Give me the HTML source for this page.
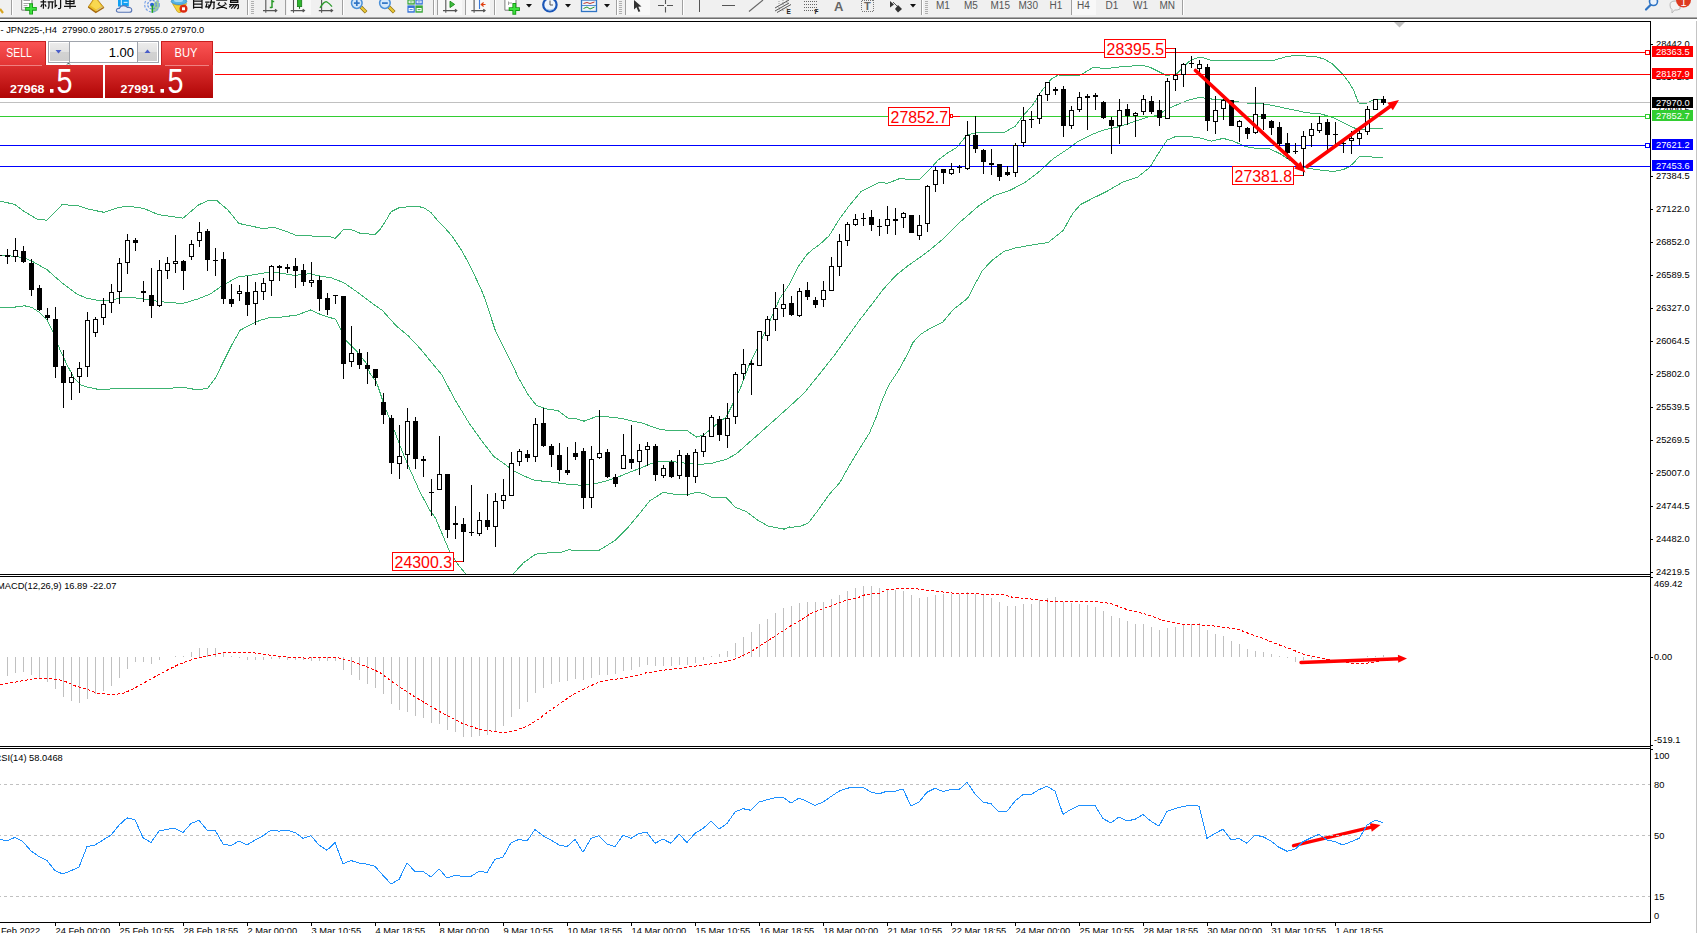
<!DOCTYPE html>
<html><head><meta charset="utf-8"><title>JPN225 H4</title>
<style>
html,body{margin:0;padding:0;background:#fff;}
body{width:1697px;height:933px;overflow:hidden;position:relative;font-family:"Liberation Sans", sans-serif;}
svg{position:absolute;left:0;top:0;display:block;}
text{font-family:"Liberation Sans", sans-serif;}
</style></head><body>
<svg width="1697" height="933" viewBox="0 0 1697 933">
<defs>
<linearGradient id="gSell" x1="0" y1="0" x2="0" y2="1"><stop offset="0" stop-color="#fb5555"/><stop offset="1" stop-color="#e23333"/></linearGradient>
<linearGradient id="gPrice" x1="0" y1="0" x2="0" y2="1"><stop offset="0" stop-color="#dc3030"/><stop offset="1" stop-color="#b00505"/></linearGradient>
<linearGradient id="gBtn" x1="0" y1="0" x2="0" y2="1"><stop offset="0" stop-color="#ececec"/><stop offset="0.5" stop-color="#e2e2e2"/><stop offset="0.5" stop-color="#d2d2d2"/><stop offset="1" stop-color="#cfcfcf"/></linearGradient>
<clipPath id="cMain"><rect x="0" y="22" width="1650" height="552"/></clipPath>
<clipPath id="cMacd"><rect x="0" y="577" width="1650" height="169"/></clipPath>
<clipPath id="cRsi"><rect x="0" y="749" width="1650" height="173"/></clipPath>
</defs>
<rect x="0" y="0" width="1697" height="933" fill="#fff"/>
<g clip-path="url(#cMain)" shape-rendering="crispEdges">
<polyline points="0.0,201.1 14.8,204.4 24.7,211.8 37.1,219.2 47.0,220.2 61.9,204.8 76.7,205.3 89.1,209.3 103.9,212.3 118.8,207.3 128.7,206.3 143.5,208.3 158.4,214.7 173.2,216.7 183.1,218.2 198.0,205.3 207.9,200.4 216.6,200.4 227.7,209.8 238.8,223.4 250.0,225.9 262.3,228.4 274.7,227.6 287.1,231.6 295.8,235.3 311.8,236.0 329.2,236.5 335.4,238.3 344.0,229.1 351.4,229.6 360.1,233.3 375.0,234.5 380.0,229.6 384.9,222.2 391.1,211.8 399.8,207.3 409.7,206.8 417.1,206.1 424.5,208.1 430.7,212.3 436.9,219.7 443.1,225.9 451.8,235.8 461.7,250.6 467.9,261.8 474.0,274.1 481.5,290.2 486.4,302.6 491.4,318.7 495.1,329.8 503.7,347.2 511.2,362.0 518.6,378.1 528.5,395.4 535.9,404.8 538.3,406.1 548.2,409.3 558.1,410.6 568.0,418.0 575.4,418.5 584.1,421.2 597.7,416.0 607.6,416.8 622.4,418.5 632.3,421.0 642.2,423.0 652.1,426.7 662.0,429.9 674.4,430.4 686.8,430.4 696.7,437.1 704.1,434.6 716.5,424.2 726.4,416.8 736.3,397.0 740.0,389.2 749.9,363.2 759.8,343.4 769.7,321.2 779.6,298.9 789.5,284.0 798.2,266.7 806.8,254.8 811.8,250.1 819.2,244.9 829.1,235.8 839.0,219.7 848.9,206.1 861.3,191.2 880.0,182.2 887.4,183.4 899.8,178.5 912.2,179.7 919.6,179.2 929.5,169.8 938.2,159.9 948.1,152.5 956.7,147.6 966.6,135.2 979.0,132.0 991.4,132.7 1003.7,132.7 1014.9,126.5 1023.5,115.4 1033.4,104.2 1040.9,91.9 1050.8,79.5 1058.2,75.0 1068.1,75.3 1080.5,75.0 1092.8,67.6 1107.7,68.4 1122.5,66.6 1142.3,65.4 1149.8,67.1 1159.7,72.1 1167.1,75.8 1170.0,74.9 1176.9,73.7 1182.0,68.6 1188.9,61.7 1195.7,58.3 1200.9,57.1 1211.2,60.5 1226.6,60.9 1242.0,60.0 1252.3,60.9 1272.9,60.5 1286.6,56.6 1296.9,55.2 1307.2,56.1 1315.7,56.6 1324.3,59.1 1332.9,64.3 1341.5,72.9 1348.3,81.4 1353.5,90.0 1357.8,101.2 1359.5,103.9 1364.6,103.9 1370.6,101.3 1375.8,99.3 1382.6,99.4" fill="none" stroke="#3CB371" stroke-width="1" />
<polyline points="0.0,255.1 14.8,256.3 24.7,258.1 32.2,261.3 47.0,269.7 61.9,282.8 76.7,293.9 86.6,298.2 99.0,300.6 111.4,300.1 123.7,297.2 138.6,298.2 153.4,300.6 168.3,302.6 183.1,303.4 198.0,298.9 210.4,293.9 222.7,285.3 237.6,277.1 252.4,274.9 267.3,272.4 279.7,272.9 294.5,275.4 309.4,273.7 319.3,275.9 331.6,277.9 344.0,282.8 356.4,291.5 371.2,302.6 382.4,310.5 396.0,325.6 408.4,336.0 420.0,348.4 429.4,359.8 441.8,374.7 454.1,398.2 469.0,423.0 481.4,440.3 493.7,456.4 503.6,463.3 513.5,470.7 523.4,475.7 534.6,480.4 548.2,481.6 568.0,484.3 582.8,485.3 597.7,483.1 607.6,480.6 620.0,476.2 632.3,471.2 642.2,467.5 652.1,463.1 662.0,461.3 674.4,461.8 686.8,463.3 699.2,464.5 711.5,463.3 726.4,459.3 736.3,453.9 774.6,419.9 789.5,406.6 804.3,392.9 819.2,374.4 834.0,355.8 846.4,338.5 858.8,321.2 871.2,305.1 883.5,289.0 895.9,275.4 908.3,265.5 920.7,256.8 929.5,250.3 944.3,237.9 961.7,220.6 979.0,205.7 993.8,195.8 1008.7,190.9 1023.5,183.4 1038.4,172.3 1053.2,158.7 1068.1,148.8 1078.0,141.4 1090.4,135.2 1102.7,130.2 1117.6,127.0 1132.4,122.1 1147.3,117.1 1157.2,115.4 1167.1,109.2 1170.0,108.0 1178.6,104.1 1188.9,100.0 1199.1,97.4 1204.3,98.1 1214.6,99.4 1226.6,100.0 1238.6,102.0 1252.3,103.7 1266.0,104.1 1276.3,106.3 1290.0,109.2 1307.2,112.8 1320.9,114.0 1332.9,117.4 1341.5,121.7 1350.0,126.0 1356.9,129.1 1363.8,129.4 1372.3,128.2 1382.6,128.6" fill="none" stroke="#3CB371" stroke-width="1" />
<polyline points="0.0,307.6 14.8,307.1 24.7,305.8 32.2,307.6 39.6,312.5 47.0,319.9 52.0,329.8 59.4,348.4 66.8,364.5 74.2,378.1 81.7,385.5 89.1,387.5 101.5,390.0 118.8,388.0 133.6,388.0 148.5,388.7 163.3,388.7 183.1,387.3 198.0,390.0 207.9,388.0 215.3,378.1 222.7,363.2 232.6,343.4 240.1,330.3 250.0,324.9 259.9,320.4 269.8,317.5 282.1,317.0 297.0,315.0 310.6,310.0 321.7,315.0 335.4,319.2 340.3,328.6 346.5,341.0 356.4,350.9 366.3,363.2 370.0,373.5 376.2,381.8 377.4,384.6 384.8,406.9 394.7,431.6 402.2,451.4 409.6,468.7 419.5,491.0 429.4,509.6 435.6,518.2 441.8,533.1 449.2,550.4 456.6,562.8 466.5,574.9" fill="none" stroke="#3CB371" stroke-width="1" />
<polyline points="512.3,574.9 523.4,562.8 535.8,554.1 548.2,552.9 560.6,552.4 568.0,549.9 582.8,550.4 598.9,550.4 615.0,540.5 627.4,528.1 639.8,513.3 649.7,500.9 663.3,492.3 674.4,494.2 686.8,494.7 696.7,492.3 704.1,493.5 712.8,498.0 726.4,497.7 735.1,507.1 746.2,511.6 758.6,520.7 768.5,526.2 783.3,528.9 783.6,529.4 789.9,526.7 790.0,527.4 800.3,526.3 808.1,523.2 817.0,511.7 829.6,493.9 840.0,482.4 846.3,470.9 856.8,453.2 869.3,433.3 875.6,418.7 881.1,402.8 888.5,385.5 898.4,370.7 905.8,357.1 913.2,342.2 920.7,334.3 930.6,328.1 942.9,321.9 952.8,310.0 967.7,298.2 975.1,284.0 982.5,270.4 992.6,259.9 1003.7,251.5 1016.1,247.8 1033.4,244.8 1048.3,242.4 1063.1,230.5 1073.0,213.1 1080.5,204.5 1092.8,198.3 1107.7,190.9 1122.5,182.2 1137.4,177.3 1149.8,167.4 1159.7,151.3 1167.1,140.1 1170.0,138.9 1176.9,136.0 1187.1,136.3 1199.1,137.7 1211.2,141.1 1223.2,138.4 1233.4,141.1 1245.4,146.6 1255.7,148.3 1269.4,148.8 1279.7,153.5 1290.0,160.3 1300.3,166.3 1307.2,168.0 1317.5,169.7 1332.9,171.5 1343.2,169.7 1350.0,166.3 1355.2,161.2 1359.5,156.5 1367.2,156.4 1375.8,157.4 1382.6,157.4" fill="none" stroke="#3CB371" stroke-width="1" />
</g>
<g shape-rendering="crispEdges">
<rect x="0" y="52" width="1650" height="1" fill="#ff0000"/>
<rect x="0" y="74" width="1650" height="1" fill="#ff0000"/>
<rect x="0" y="102" width="1650" height="1" fill="#c0c0c0"/>
<rect x="0" y="116" width="1650" height="1" fill="#32cd32"/>
<rect x="0" y="145" width="1650" height="1" fill="#0000ff"/>
<rect x="0" y="166" width="1650" height="1" fill="#0000ff"/>
</g>
<g shape-rendering="crispEdges" clip-path="url(#cMain)">
<rect x="0" y="255" width="2" height="1" fill="#000"/>
<rect x="7" y="249" width="1" height="15" fill="#000"/>
<rect x="5" y="255" width="5" height="2" fill="#000"/>
<rect x="15" y="238" width="1" height="24" fill="#000"/>
<rect x="13" y="250" width="5" height="7" fill="#000"/>
<rect x="14" y="251" width="3" height="5" fill="#fff"/>
<rect x="23" y="246" width="1" height="17" fill="#000"/>
<rect x="21" y="251" width="5" height="11" fill="#000"/>
<rect x="31" y="259" width="1" height="37" fill="#000"/>
<rect x="29" y="263" width="5" height="27" fill="#000"/>
<rect x="39" y="285" width="1" height="26" fill="#000"/>
<rect x="37" y="288" width="5" height="22" fill="#000"/>
<rect x="47" y="308" width="1" height="12" fill="#000"/>
<rect x="45" y="315" width="5" height="3" fill="#000"/>
<rect x="55" y="307" width="1" height="71" fill="#000"/>
<rect x="53" y="319" width="5" height="48" fill="#000"/>
<rect x="63" y="350" width="1" height="58" fill="#000"/>
<rect x="61" y="366" width="5" height="17" fill="#000"/>
<rect x="71" y="372" width="1" height="28" fill="#000"/>
<rect x="69" y="377" width="5" height="6" fill="#000"/>
<rect x="70" y="378" width="3" height="4" fill="#fff"/>
<rect x="79" y="362" width="1" height="31" fill="#000"/>
<rect x="77" y="368" width="5" height="9" fill="#000"/>
<rect x="78" y="369" width="3" height="7" fill="#fff"/>
<rect x="87" y="312" width="1" height="65" fill="#000"/>
<rect x="85" y="320" width="5" height="47" fill="#000"/>
<rect x="86" y="321" width="3" height="45" fill="#fff"/>
<rect x="95" y="317" width="1" height="20" fill="#000"/>
<rect x="93" y="319" width="5" height="14" fill="#000"/>
<rect x="94" y="320" width="3" height="12" fill="#fff"/>
<rect x="103" y="298" width="1" height="27" fill="#000"/>
<rect x="101" y="304" width="5" height="14" fill="#000"/>
<rect x="102" y="305" width="3" height="12" fill="#fff"/>
<rect x="111" y="284" width="1" height="29" fill="#000"/>
<rect x="109" y="292" width="5" height="11" fill="#000"/>
<rect x="110" y="293" width="3" height="9" fill="#fff"/>
<rect x="119" y="258" width="1" height="46" fill="#000"/>
<rect x="117" y="263" width="5" height="29" fill="#000"/>
<rect x="118" y="264" width="3" height="27" fill="#fff"/>
<rect x="127" y="234" width="1" height="40" fill="#000"/>
<rect x="125" y="240" width="5" height="23" fill="#000"/>
<rect x="126" y="241" width="3" height="21" fill="#fff"/>
<rect x="135" y="238" width="1" height="13" fill="#000"/>
<rect x="133" y="240" width="5" height="3" fill="#000"/>
<rect x="143" y="281" width="1" height="21" fill="#000"/>
<rect x="141" y="291" width="5" height="2" fill="#000"/>
<rect x="151" y="268" width="1" height="50" fill="#000"/>
<rect x="149" y="295" width="5" height="11" fill="#000"/>
<rect x="159" y="260" width="1" height="47" fill="#000"/>
<rect x="157" y="270" width="5" height="36" fill="#000"/>
<rect x="158" y="271" width="3" height="34" fill="#fff"/>
<rect x="167" y="257" width="1" height="22" fill="#000"/>
<rect x="165" y="263" width="5" height="8" fill="#000"/>
<rect x="166" y="264" width="3" height="6" fill="#fff"/>
<rect x="175" y="235" width="1" height="38" fill="#000"/>
<rect x="173" y="261" width="5" height="3" fill="#000"/>
<rect x="174" y="262" width="3" height="1" fill="#fff"/>
<rect x="183" y="260" width="1" height="30" fill="#000"/>
<rect x="181" y="261" width="5" height="10" fill="#000"/>
<rect x="191" y="240" width="1" height="20" fill="#000"/>
<rect x="189" y="244" width="5" height="13" fill="#000"/>
<rect x="190" y="245" width="3" height="11" fill="#fff"/>
<rect x="199" y="222" width="1" height="25" fill="#000"/>
<rect x="197" y="232" width="5" height="9" fill="#000"/>
<rect x="198" y="233" width="3" height="7" fill="#fff"/>
<rect x="207" y="229" width="1" height="42" fill="#000"/>
<rect x="205" y="231" width="5" height="29" fill="#000"/>
<rect x="215" y="248" width="1" height="28" fill="#000"/>
<rect x="213" y="260" width="5" height="1" fill="#000"/>
<rect x="223" y="252" width="1" height="52" fill="#000"/>
<rect x="221" y="259" width="5" height="40" fill="#000"/>
<rect x="231" y="284" width="1" height="23" fill="#000"/>
<rect x="229" y="299" width="5" height="5" fill="#000"/>
<rect x="239" y="285" width="1" height="16" fill="#000"/>
<rect x="237" y="291" width="5" height="3" fill="#000"/>
<rect x="238" y="292" width="3" height="1" fill="#fff"/>
<rect x="247" y="276" width="1" height="40" fill="#000"/>
<rect x="245" y="292" width="5" height="13" fill="#000"/>
<rect x="255" y="282" width="1" height="43" fill="#000"/>
<rect x="253" y="291" width="5" height="13" fill="#000"/>
<rect x="254" y="292" width="3" height="11" fill="#fff"/>
<rect x="263" y="278" width="1" height="22" fill="#000"/>
<rect x="261" y="283" width="5" height="9" fill="#000"/>
<rect x="262" y="284" width="3" height="7" fill="#fff"/>
<rect x="271" y="265" width="1" height="31" fill="#000"/>
<rect x="269" y="266" width="5" height="15" fill="#000"/>
<rect x="270" y="267" width="3" height="13" fill="#fff"/>
<rect x="279" y="265" width="1" height="16" fill="#000"/>
<rect x="277" y="266" width="5" height="2" fill="#000"/>
<rect x="287" y="264" width="1" height="9" fill="#000"/>
<rect x="285" y="267" width="5" height="2" fill="#000"/>
<rect x="295" y="258" width="1" height="30" fill="#000"/>
<rect x="293" y="266" width="5" height="5" fill="#000"/>
<rect x="303" y="264" width="1" height="22" fill="#000"/>
<rect x="301" y="270" width="5" height="12" fill="#000"/>
<rect x="311" y="262" width="1" height="25" fill="#000"/>
<rect x="309" y="280" width="5" height="3" fill="#000"/>
<rect x="310" y="281" width="3" height="1" fill="#fff"/>
<rect x="319" y="276" width="1" height="35" fill="#000"/>
<rect x="317" y="280" width="5" height="19" fill="#000"/>
<rect x="327" y="293" width="1" height="22" fill="#000"/>
<rect x="325" y="298" width="5" height="12" fill="#000"/>
<rect x="335" y="295" width="1" height="9" fill="#000"/>
<rect x="333" y="295" width="5" height="1" fill="#000"/>
<rect x="343" y="296" width="1" height="83" fill="#000"/>
<rect x="341" y="296" width="5" height="68" fill="#000"/>
<rect x="351" y="326" width="1" height="41" fill="#000"/>
<rect x="349" y="353" width="5" height="9" fill="#000"/>
<rect x="350" y="354" width="3" height="7" fill="#fff"/>
<rect x="359" y="349" width="1" height="20" fill="#000"/>
<rect x="357" y="353" width="5" height="12" fill="#000"/>
<rect x="367" y="352" width="1" height="32" fill="#000"/>
<rect x="365" y="365" width="5" height="4" fill="#000"/>
<rect x="375" y="369" width="1" height="17" fill="#000"/>
<rect x="373" y="369" width="5" height="9" fill="#000"/>
<rect x="383" y="393" width="1" height="31" fill="#000"/>
<rect x="381" y="402" width="5" height="13" fill="#000"/>
<rect x="391" y="415" width="1" height="59" fill="#000"/>
<rect x="389" y="418" width="5" height="45" fill="#000"/>
<rect x="399" y="425" width="1" height="54" fill="#000"/>
<rect x="397" y="456" width="5" height="8" fill="#000"/>
<rect x="398" y="457" width="3" height="6" fill="#fff"/>
<rect x="407" y="408" width="1" height="61" fill="#000"/>
<rect x="405" y="421" width="5" height="34" fill="#000"/>
<rect x="406" y="422" width="3" height="32" fill="#fff"/>
<rect x="415" y="417" width="1" height="52" fill="#000"/>
<rect x="413" y="421" width="5" height="38" fill="#000"/>
<rect x="423" y="456" width="1" height="21" fill="#000"/>
<rect x="421" y="459" width="5" height="2" fill="#000"/>
<rect x="431" y="479" width="1" height="37" fill="#000"/>
<rect x="429" y="492" width="5" height="1" fill="#000"/>
<rect x="439" y="436" width="1" height="54" fill="#000"/>
<rect x="437" y="474" width="5" height="16" fill="#000"/>
<rect x="438" y="475" width="3" height="14" fill="#fff"/>
<rect x="447" y="474" width="1" height="64" fill="#000"/>
<rect x="445" y="474" width="5" height="56" fill="#000"/>
<rect x="455" y="506" width="1" height="33" fill="#000"/>
<rect x="453" y="523" width="5" height="2" fill="#000"/>
<rect x="463" y="518" width="1" height="44" fill="#000"/>
<rect x="461" y="524" width="5" height="8" fill="#000"/>
<rect x="471" y="485" width="1" height="51" fill="#000"/>
<rect x="469" y="532" width="5" height="1" fill="#000"/>
<rect x="479" y="512" width="1" height="24" fill="#000"/>
<rect x="477" y="520" width="5" height="14" fill="#000"/>
<rect x="478" y="521" width="3" height="12" fill="#fff"/>
<rect x="487" y="494" width="1" height="36" fill="#000"/>
<rect x="485" y="520" width="5" height="7" fill="#000"/>
<rect x="495" y="493" width="1" height="54" fill="#000"/>
<rect x="493" y="501" width="5" height="26" fill="#000"/>
<rect x="494" y="502" width="3" height="24" fill="#fff"/>
<rect x="503" y="479" width="1" height="30" fill="#000"/>
<rect x="501" y="495" width="5" height="6" fill="#000"/>
<rect x="502" y="496" width="3" height="4" fill="#fff"/>
<rect x="511" y="452" width="1" height="44" fill="#000"/>
<rect x="509" y="463" width="5" height="33" fill="#000"/>
<rect x="510" y="464" width="3" height="31" fill="#fff"/>
<rect x="519" y="449" width="1" height="17" fill="#000"/>
<rect x="517" y="451" width="5" height="11" fill="#000"/>
<rect x="518" y="452" width="3" height="9" fill="#fff"/>
<rect x="527" y="450" width="1" height="12" fill="#000"/>
<rect x="525" y="454" width="5" height="4" fill="#000"/>
<rect x="535" y="418" width="1" height="44" fill="#000"/>
<rect x="533" y="424" width="5" height="33" fill="#000"/>
<rect x="534" y="425" width="3" height="31" fill="#fff"/>
<rect x="543" y="408" width="1" height="39" fill="#000"/>
<rect x="541" y="423" width="5" height="23" fill="#000"/>
<rect x="551" y="444" width="1" height="23" fill="#000"/>
<rect x="549" y="446" width="5" height="9" fill="#000"/>
<rect x="559" y="443" width="1" height="38" fill="#000"/>
<rect x="557" y="455" width="5" height="15" fill="#000"/>
<rect x="567" y="447" width="1" height="28" fill="#000"/>
<rect x="565" y="470" width="5" height="3" fill="#000"/>
<rect x="575" y="442" width="1" height="18" fill="#000"/>
<rect x="573" y="453" width="5" height="4" fill="#000"/>
<rect x="583" y="448" width="1" height="61" fill="#000"/>
<rect x="581" y="451" width="5" height="47" fill="#000"/>
<rect x="591" y="446" width="1" height="62" fill="#000"/>
<rect x="589" y="459" width="5" height="39" fill="#000"/>
<rect x="590" y="460" width="3" height="37" fill="#fff"/>
<rect x="599" y="410" width="1" height="49" fill="#000"/>
<rect x="597" y="453" width="5" height="5" fill="#000"/>
<rect x="598" y="454" width="3" height="3" fill="#fff"/>
<rect x="607" y="449" width="1" height="29" fill="#000"/>
<rect x="605" y="452" width="5" height="25" fill="#000"/>
<rect x="615" y="474" width="1" height="13" fill="#000"/>
<rect x="613" y="477" width="5" height="7" fill="#000"/>
<rect x="623" y="434" width="1" height="35" fill="#000"/>
<rect x="621" y="455" width="5" height="14" fill="#000"/>
<rect x="622" y="456" width="3" height="12" fill="#fff"/>
<rect x="631" y="425" width="1" height="44" fill="#000"/>
<rect x="629" y="459" width="5" height="4" fill="#000"/>
<rect x="639" y="444" width="1" height="31" fill="#000"/>
<rect x="637" y="450" width="5" height="12" fill="#000"/>
<rect x="638" y="451" width="3" height="10" fill="#fff"/>
<rect x="647" y="442" width="1" height="24" fill="#000"/>
<rect x="645" y="446" width="5" height="4" fill="#000"/>
<rect x="646" y="447" width="3" height="2" fill="#fff"/>
<rect x="655" y="444" width="1" height="37" fill="#000"/>
<rect x="653" y="446" width="5" height="29" fill="#000"/>
<rect x="663" y="465" width="1" height="13" fill="#000"/>
<rect x="661" y="468" width="5" height="8" fill="#000"/>
<rect x="662" y="469" width="3" height="6" fill="#fff"/>
<rect x="671" y="460" width="1" height="18" fill="#000"/>
<rect x="669" y="462" width="5" height="15" fill="#000"/>
<rect x="679" y="450" width="1" height="29" fill="#000"/>
<rect x="677" y="455" width="5" height="21" fill="#000"/>
<rect x="678" y="456" width="3" height="19" fill="#fff"/>
<rect x="687" y="453" width="1" height="43" fill="#000"/>
<rect x="685" y="455" width="5" height="22" fill="#000"/>
<rect x="695" y="449" width="1" height="34" fill="#000"/>
<rect x="693" y="452" width="5" height="25" fill="#000"/>
<rect x="694" y="453" width="3" height="23" fill="#fff"/>
<rect x="703" y="433" width="1" height="24" fill="#000"/>
<rect x="701" y="436" width="5" height="16" fill="#000"/>
<rect x="702" y="437" width="3" height="14" fill="#fff"/>
<rect x="711" y="415" width="1" height="22" fill="#000"/>
<rect x="709" y="417" width="5" height="20" fill="#000"/>
<rect x="710" y="418" width="3" height="18" fill="#fff"/>
<rect x="719" y="416" width="1" height="25" fill="#000"/>
<rect x="717" y="419" width="5" height="16" fill="#000"/>
<rect x="727" y="403" width="1" height="45" fill="#000"/>
<rect x="725" y="418" width="5" height="18" fill="#000"/>
<rect x="726" y="419" width="3" height="16" fill="#fff"/>
<rect x="735" y="372" width="1" height="52" fill="#000"/>
<rect x="733" y="374" width="5" height="43" fill="#000"/>
<rect x="734" y="375" width="3" height="41" fill="#fff"/>
<rect x="743" y="349" width="1" height="31" fill="#000"/>
<rect x="741" y="364" width="5" height="10" fill="#000"/>
<rect x="742" y="365" width="3" height="8" fill="#fff"/>
<rect x="751" y="360" width="1" height="35" fill="#000"/>
<rect x="749" y="363" width="5" height="2" fill="#000"/>
<rect x="759" y="331" width="1" height="35" fill="#000"/>
<rect x="757" y="331" width="5" height="35" fill="#000"/>
<rect x="758" y="332" width="3" height="33" fill="#fff"/>
<rect x="767" y="316" width="1" height="25" fill="#000"/>
<rect x="765" y="319" width="5" height="17" fill="#000"/>
<rect x="766" y="320" width="3" height="15" fill="#fff"/>
<rect x="775" y="292" width="1" height="39" fill="#000"/>
<rect x="773" y="308" width="5" height="12" fill="#000"/>
<rect x="774" y="309" width="3" height="10" fill="#fff"/>
<rect x="783" y="284" width="1" height="33" fill="#000"/>
<rect x="781" y="304" width="5" height="5" fill="#000"/>
<rect x="782" y="305" width="3" height="3" fill="#fff"/>
<rect x="791" y="296" width="1" height="20" fill="#000"/>
<rect x="789" y="303" width="5" height="12" fill="#000"/>
<rect x="799" y="288" width="1" height="29" fill="#000"/>
<rect x="797" y="291" width="5" height="25" fill="#000"/>
<rect x="798" y="292" width="3" height="23" fill="#fff"/>
<rect x="807" y="282" width="1" height="18" fill="#000"/>
<rect x="805" y="290" width="5" height="7" fill="#000"/>
<rect x="815" y="297" width="1" height="11" fill="#000"/>
<rect x="813" y="300" width="5" height="5" fill="#000"/>
<rect x="823" y="281" width="1" height="26" fill="#000"/>
<rect x="821" y="290" width="5" height="10" fill="#000"/>
<rect x="822" y="291" width="3" height="8" fill="#fff"/>
<rect x="831" y="257" width="1" height="34" fill="#000"/>
<rect x="829" y="266" width="5" height="25" fill="#000"/>
<rect x="830" y="267" width="3" height="23" fill="#fff"/>
<rect x="839" y="234" width="1" height="42" fill="#000"/>
<rect x="837" y="241" width="5" height="26" fill="#000"/>
<rect x="838" y="242" width="3" height="24" fill="#fff"/>
<rect x="847" y="222" width="1" height="24" fill="#000"/>
<rect x="845" y="224" width="5" height="17" fill="#000"/>
<rect x="846" y="225" width="3" height="15" fill="#fff"/>
<rect x="855" y="214" width="1" height="12" fill="#000"/>
<rect x="853" y="219" width="5" height="6" fill="#000"/>
<rect x="854" y="220" width="3" height="4" fill="#fff"/>
<rect x="863" y="213" width="1" height="13" fill="#000"/>
<rect x="861" y="218" width="5" height="1" fill="#000"/>
<rect x="871" y="210" width="1" height="21" fill="#000"/>
<rect x="869" y="217" width="5" height="8" fill="#000"/>
<rect x="879" y="219" width="1" height="17" fill="#000"/>
<rect x="877" y="226" width="5" height="1" fill="#000"/>
<rect x="887" y="206" width="1" height="28" fill="#000"/>
<rect x="885" y="219" width="5" height="7" fill="#000"/>
<rect x="886" y="220" width="3" height="5" fill="#fff"/>
<rect x="895" y="208" width="1" height="27" fill="#000"/>
<rect x="893" y="219" width="5" height="2" fill="#000"/>
<rect x="903" y="212" width="1" height="16" fill="#000"/>
<rect x="901" y="213" width="5" height="5" fill="#000"/>
<rect x="902" y="214" width="3" height="3" fill="#fff"/>
<rect x="911" y="215" width="1" height="18" fill="#000"/>
<rect x="909" y="215" width="5" height="18" fill="#000"/>
<rect x="919" y="215" width="1" height="25" fill="#000"/>
<rect x="917" y="225" width="5" height="11" fill="#000"/>
<rect x="918" y="226" width="3" height="9" fill="#fff"/>
<rect x="927" y="185" width="1" height="47" fill="#000"/>
<rect x="925" y="186" width="5" height="38" fill="#000"/>
<rect x="926" y="187" width="3" height="36" fill="#fff"/>
<rect x="935" y="167" width="1" height="25" fill="#000"/>
<rect x="933" y="170" width="5" height="15" fill="#000"/>
<rect x="934" y="171" width="3" height="13" fill="#fff"/>
<rect x="943" y="169" width="1" height="15" fill="#000"/>
<rect x="941" y="169" width="5" height="4" fill="#000"/>
<rect x="951" y="163" width="1" height="12" fill="#000"/>
<rect x="949" y="169" width="5" height="5" fill="#000"/>
<rect x="950" y="170" width="3" height="3" fill="#fff"/>
<rect x="959" y="165" width="1" height="8" fill="#000"/>
<rect x="957" y="167" width="5" height="1" fill="#000"/>
<rect x="967" y="121" width="1" height="49" fill="#000"/>
<rect x="965" y="135" width="5" height="34" fill="#000"/>
<rect x="966" y="136" width="3" height="32" fill="#fff"/>
<rect x="975" y="116" width="1" height="37" fill="#000"/>
<rect x="973" y="135" width="5" height="14" fill="#000"/>
<rect x="983" y="149" width="1" height="25" fill="#000"/>
<rect x="981" y="150" width="5" height="12" fill="#000"/>
<rect x="991" y="149" width="1" height="26" fill="#000"/>
<rect x="989" y="163" width="5" height="2" fill="#000"/>
<rect x="999" y="164" width="1" height="17" fill="#000"/>
<rect x="997" y="164" width="5" height="13" fill="#000"/>
<rect x="1007" y="166" width="1" height="10" fill="#000"/>
<rect x="1005" y="172" width="5" height="3" fill="#000"/>
<rect x="1015" y="143" width="1" height="34" fill="#000"/>
<rect x="1013" y="145" width="5" height="28" fill="#000"/>
<rect x="1014" y="146" width="3" height="26" fill="#fff"/>
<rect x="1023" y="107" width="1" height="40" fill="#000"/>
<rect x="1021" y="120" width="5" height="23" fill="#000"/>
<rect x="1022" y="121" width="3" height="21" fill="#fff"/>
<rect x="1031" y="111" width="1" height="17" fill="#000"/>
<rect x="1029" y="119" width="5" height="1" fill="#000"/>
<rect x="1039" y="93" width="1" height="31" fill="#000"/>
<rect x="1037" y="95" width="5" height="24" fill="#000"/>
<rect x="1038" y="96" width="3" height="22" fill="#fff"/>
<rect x="1047" y="82" width="1" height="19" fill="#000"/>
<rect x="1045" y="82" width="5" height="13" fill="#000"/>
<rect x="1046" y="83" width="3" height="11" fill="#fff"/>
<rect x="1055" y="87" width="1" height="8" fill="#000"/>
<rect x="1053" y="89" width="5" height="2" fill="#000"/>
<rect x="1063" y="86" width="1" height="51" fill="#000"/>
<rect x="1061" y="89" width="5" height="37" fill="#000"/>
<rect x="1071" y="106" width="1" height="23" fill="#000"/>
<rect x="1069" y="110" width="5" height="16" fill="#000"/>
<rect x="1070" y="111" width="3" height="14" fill="#fff"/>
<rect x="1079" y="92" width="1" height="20" fill="#000"/>
<rect x="1077" y="97" width="5" height="13" fill="#000"/>
<rect x="1078" y="98" width="3" height="11" fill="#fff"/>
<rect x="1087" y="94" width="1" height="36" fill="#000"/>
<rect x="1085" y="96" width="5" height="2" fill="#000"/>
<rect x="1095" y="93" width="1" height="17" fill="#000"/>
<rect x="1093" y="95" width="5" height="2" fill="#000"/>
<rect x="1103" y="101" width="1" height="18" fill="#000"/>
<rect x="1101" y="102" width="5" height="16" fill="#000"/>
<rect x="1111" y="117" width="1" height="37" fill="#000"/>
<rect x="1109" y="120" width="5" height="6" fill="#000"/>
<rect x="1119" y="99" width="1" height="45" fill="#000"/>
<rect x="1117" y="110" width="5" height="16" fill="#000"/>
<rect x="1118" y="111" width="3" height="14" fill="#fff"/>
<rect x="1127" y="104" width="1" height="21" fill="#000"/>
<rect x="1125" y="109" width="5" height="7" fill="#000"/>
<rect x="1135" y="112" width="1" height="25" fill="#000"/>
<rect x="1133" y="113" width="5" height="3" fill="#000"/>
<rect x="1134" y="114" width="3" height="1" fill="#fff"/>
<rect x="1143" y="95" width="1" height="20" fill="#000"/>
<rect x="1141" y="99" width="5" height="13" fill="#000"/>
<rect x="1142" y="100" width="3" height="11" fill="#fff"/>
<rect x="1151" y="96" width="1" height="18" fill="#000"/>
<rect x="1149" y="101" width="5" height="11" fill="#000"/>
<rect x="1159" y="100" width="1" height="26" fill="#000"/>
<rect x="1157" y="110" width="5" height="8" fill="#000"/>
<rect x="1167" y="78" width="1" height="41" fill="#000"/>
<rect x="1165" y="81" width="5" height="38" fill="#000"/>
<rect x="1166" y="82" width="3" height="36" fill="#fff"/>
<rect x="1175" y="48" width="1" height="43" fill="#000"/>
<rect x="1173" y="75" width="5" height="5" fill="#000"/>
<rect x="1174" y="76" width="3" height="3" fill="#fff"/>
<rect x="1183" y="63" width="1" height="24" fill="#000"/>
<rect x="1181" y="64" width="5" height="11" fill="#000"/>
<rect x="1182" y="65" width="3" height="9" fill="#fff"/>
<rect x="1191" y="56" width="1" height="12" fill="#000"/>
<rect x="1189" y="63" width="5" height="1" fill="#000"/>
<rect x="1199" y="60" width="1" height="12" fill="#000"/>
<rect x="1197" y="64" width="5" height="5" fill="#000"/>
<rect x="1198" y="65" width="3" height="3" fill="#fff"/>
<rect x="1207" y="64" width="1" height="67" fill="#000"/>
<rect x="1205" y="67" width="5" height="54" fill="#000"/>
<rect x="1215" y="96" width="1" height="38" fill="#000"/>
<rect x="1213" y="110" width="5" height="12" fill="#000"/>
<rect x="1214" y="111" width="3" height="10" fill="#fff"/>
<rect x="1223" y="99" width="1" height="21" fill="#000"/>
<rect x="1221" y="100" width="5" height="9" fill="#000"/>
<rect x="1222" y="101" width="3" height="7" fill="#fff"/>
<rect x="1231" y="100" width="1" height="26" fill="#000"/>
<rect x="1229" y="100" width="5" height="26" fill="#000"/>
<rect x="1239" y="120" width="1" height="22" fill="#000"/>
<rect x="1237" y="121" width="5" height="6" fill="#000"/>
<rect x="1238" y="122" width="3" height="4" fill="#fff"/>
<rect x="1247" y="127" width="1" height="12" fill="#000"/>
<rect x="1245" y="128" width="5" height="6" fill="#000"/>
<rect x="1255" y="87" width="1" height="47" fill="#000"/>
<rect x="1253" y="114" width="5" height="19" fill="#000"/>
<rect x="1254" y="115" width="3" height="17" fill="#fff"/>
<rect x="1263" y="103" width="1" height="27" fill="#000"/>
<rect x="1261" y="114" width="5" height="5" fill="#000"/>
<rect x="1271" y="120" width="1" height="15" fill="#000"/>
<rect x="1269" y="121" width="5" height="7" fill="#000"/>
<rect x="1279" y="122" width="1" height="24" fill="#000"/>
<rect x="1277" y="127" width="5" height="17" fill="#000"/>
<rect x="1287" y="133" width="1" height="26" fill="#000"/>
<rect x="1285" y="143" width="5" height="10" fill="#000"/>
<rect x="1295" y="143" width="1" height="11" fill="#000"/>
<rect x="1293" y="151" width="5" height="1" fill="#000"/>
<rect x="1303" y="131" width="1" height="45" fill="#000"/>
<rect x="1301" y="136" width="5" height="13" fill="#000"/>
<rect x="1302" y="137" width="3" height="11" fill="#fff"/>
<rect x="1311" y="123" width="1" height="24" fill="#000"/>
<rect x="1309" y="129" width="5" height="7" fill="#000"/>
<rect x="1310" y="130" width="3" height="5" fill="#fff"/>
<rect x="1319" y="116" width="1" height="17" fill="#000"/>
<rect x="1317" y="123" width="5" height="8" fill="#000"/>
<rect x="1318" y="124" width="3" height="6" fill="#fff"/>
<rect x="1327" y="119" width="1" height="31" fill="#000"/>
<rect x="1325" y="122" width="5" height="13" fill="#000"/>
<rect x="1335" y="122" width="1" height="22" fill="#000"/>
<rect x="1333" y="134" width="5" height="1" fill="#000"/>
<rect x="1343" y="141" width="1" height="12" fill="#000"/>
<rect x="1341" y="143" width="5" height="1" fill="#000"/>
<rect x="1351" y="131" width="1" height="23" fill="#000"/>
<rect x="1349" y="138" width="5" height="3" fill="#000"/>
<rect x="1350" y="139" width="3" height="1" fill="#fff"/>
<rect x="1359" y="130" width="1" height="15" fill="#000"/>
<rect x="1357" y="133" width="5" height="6" fill="#000"/>
<rect x="1358" y="134" width="3" height="4" fill="#fff"/>
<rect x="1367" y="106" width="1" height="29" fill="#000"/>
<rect x="1365" y="109" width="5" height="23" fill="#000"/>
<rect x="1366" y="110" width="3" height="21" fill="#fff"/>
<rect x="1375" y="99" width="1" height="11" fill="#000"/>
<rect x="1373" y="99" width="5" height="11" fill="#000"/>
<rect x="1374" y="100" width="3" height="9" fill="#fff"/>
<rect x="1383" y="96" width="1" height="9" fill="#000"/>
<rect x="1381" y="99" width="5" height="4" fill="#000"/>
</g>
<rect x="392.5" y="552.5" width="61" height="18" fill="#fff" stroke="#ff0000" stroke-width="1" shape-rendering="crispEdges"/>
<text x="394.6" y="568" font-size="16.5" fill="#ff0000" textLength="57.4" lengthAdjust="spacingAndGlyphs">24300.3</text>
<rect x="454" y="561" width="9" height="1" fill="#ff0000" shape-rendering="crispEdges"/>
<rect x="1104.5" y="39.5" width="61" height="18" fill="#fff" stroke="#ff0000" stroke-width="1" shape-rendering="crispEdges"/>
<text x="1106.6" y="55" font-size="16.5" fill="#ff0000" textLength="57.4" lengthAdjust="spacingAndGlyphs">28395.5</text>
<rect x="1166" y="48" width="9" height="1" fill="#ff0000" shape-rendering="crispEdges"/>
<rect x="888.5" y="107.5" width="61" height="18" fill="#fff" stroke="#ff0000" stroke-width="1" shape-rendering="crispEdges"/>
<text x="890.6" y="123" font-size="16.5" fill="#ff0000" textLength="57.4" lengthAdjust="spacingAndGlyphs">27852.7</text>
<rect x="950.5" y="114.5" width="2" height="3" fill="#fff" stroke="#ff0000" stroke-width="1" shape-rendering="crispEdges"/>
<rect x="953" y="116" width="7" height="1" fill="#ff0000" shape-rendering="crispEdges"/>
<rect x="1232.5" y="166.5" width="61" height="18" fill="#fff" stroke="#ff0000" stroke-width="1" shape-rendering="crispEdges"/>
<text x="1234.6" y="182" font-size="16.5" fill="#ff0000" textLength="57.4" lengthAdjust="spacingAndGlyphs">27381.8</text>
<rect x="1294" y="175" width="9" height="1" fill="#ff0000" shape-rendering="crispEdges"/>
<line x1="1195.5" y1="70.5" x2="1298.9" y2="166.4" stroke="#ff0000" stroke-width="3.6" stroke-linecap="round"/>
<polygon points="1305.5,172.5 1294.3,168.4 1300.6,161.6" fill="#ff0000"/>
<line x1="1307.0" y1="166.5" x2="1391.7" y2="105.3" stroke="#ff0000" stroke-width="3.6" stroke-linecap="round"/>
<polygon points="1399.0,100.0 1392.8,110.2 1387.4,102.7" fill="#ff0000"/>
<line x1="1301.0" y1="662.5" x2="1400.0" y2="658.8" stroke="#ff0000" stroke-width="3.4" stroke-linecap="round"/>
<polygon points="1407.0,658.5 1398.2,662.8 1397.9,654.8" fill="#ff0000"/>
<line x1="1293.5" y1="845.7" x2="1372.7" y2="826.9" stroke="#ff0000" stroke-width="3.4" stroke-linecap="round"/>
<polygon points="1380.5,825.0 1371.8,831.7 1369.7,822.9" fill="#ff0000"/>
<g shape-rendering="crispEdges" clip-path="url(#cMacd)">
<rect x="7" y="657" width="1" height="19" fill="#c0c0c0"/>
<rect x="15" y="657" width="1" height="16" fill="#c0c0c0"/>
<rect x="23" y="657" width="1" height="15" fill="#c0c0c0"/>
<rect x="31" y="657" width="1" height="18" fill="#c0c0c0"/>
<rect x="39" y="657" width="1" height="22" fill="#c0c0c0"/>
<rect x="47" y="657" width="1" height="25" fill="#c0c0c0"/>
<rect x="55" y="657" width="1" height="32" fill="#c0c0c0"/>
<rect x="63" y="657" width="1" height="40" fill="#c0c0c0"/>
<rect x="71" y="657" width="1" height="44" fill="#c0c0c0"/>
<rect x="79" y="657" width="1" height="46" fill="#c0c0c0"/>
<rect x="87" y="657" width="1" height="42" fill="#c0c0c0"/>
<rect x="95" y="657" width="1" height="37" fill="#c0c0c0"/>
<rect x="103" y="657" width="1" height="34" fill="#c0c0c0"/>
<rect x="111" y="657" width="1" height="29" fill="#c0c0c0"/>
<rect x="119" y="657" width="1" height="21" fill="#c0c0c0"/>
<rect x="127" y="657" width="1" height="12" fill="#c0c0c0"/>
<rect x="135" y="657" width="1" height="5" fill="#c0c0c0"/>
<rect x="143" y="657" width="1" height="5" fill="#c0c0c0"/>
<rect x="151" y="657" width="1" height="7" fill="#c0c0c0"/>
<rect x="159" y="657" width="1" height="3" fill="#c0c0c0"/>
<rect x="175" y="656" width="1" height="1" fill="#c0c0c0"/>
<rect x="183" y="656" width="1" height="1" fill="#c0c0c0"/>
<rect x="191" y="652" width="1" height="5" fill="#c0c0c0"/>
<rect x="199" y="648" width="1" height="9" fill="#c0c0c0"/>
<rect x="207" y="648" width="1" height="9" fill="#c0c0c0"/>
<rect x="215" y="648" width="1" height="9" fill="#c0c0c0"/>
<rect x="223" y="652" width="1" height="5" fill="#c0c0c0"/>
<rect x="231" y="656" width="1" height="1" fill="#c0c0c0"/>
<rect x="239" y="657" width="1" height="1" fill="#c0c0c0"/>
<rect x="247" y="657" width="1" height="3" fill="#c0c0c0"/>
<rect x="255" y="657" width="1" height="3" fill="#c0c0c0"/>
<rect x="263" y="657" width="1" height="3" fill="#c0c0c0"/>
<rect x="271" y="657" width="1" height="2" fill="#c0c0c0"/>
<rect x="279" y="657" width="1" height="2" fill="#c0c0c0"/>
<rect x="287" y="657" width="1" height="3" fill="#c0c0c0"/>
<rect x="295" y="657" width="1" height="3" fill="#c0c0c0"/>
<rect x="303" y="657" width="1" height="3" fill="#c0c0c0"/>
<rect x="311" y="657" width="1" height="4" fill="#c0c0c0"/>
<rect x="319" y="657" width="1" height="4" fill="#c0c0c0"/>
<rect x="327" y="657" width="1" height="4" fill="#c0c0c0"/>
<rect x="335" y="657" width="1" height="4" fill="#c0c0c0"/>
<rect x="343" y="657" width="1" height="13" fill="#c0c0c0"/>
<rect x="351" y="657" width="1" height="18" fill="#c0c0c0"/>
<rect x="359" y="657" width="1" height="23" fill="#c0c0c0"/>
<rect x="367" y="657" width="1" height="27" fill="#c0c0c0"/>
<rect x="375" y="657" width="1" height="31" fill="#c0c0c0"/>
<rect x="383" y="657" width="1" height="37" fill="#c0c0c0"/>
<rect x="391" y="657" width="1" height="47" fill="#c0c0c0"/>
<rect x="399" y="657" width="1" height="53" fill="#c0c0c0"/>
<rect x="407" y="657" width="1" height="55" fill="#c0c0c0"/>
<rect x="415" y="657" width="1" height="59" fill="#c0c0c0"/>
<rect x="423" y="657" width="1" height="61" fill="#c0c0c0"/>
<rect x="431" y="657" width="1" height="66" fill="#c0c0c0"/>
<rect x="439" y="657" width="1" height="67" fill="#c0c0c0"/>
<rect x="447" y="657" width="1" height="73" fill="#c0c0c0"/>
<rect x="455" y="657" width="1" height="75" fill="#c0c0c0"/>
<rect x="463" y="657" width="1" height="80" fill="#c0c0c0"/>
<rect x="471" y="657" width="1" height="80" fill="#c0c0c0"/>
<rect x="479" y="657" width="1" height="79" fill="#c0c0c0"/>
<rect x="487" y="657" width="1" height="78" fill="#c0c0c0"/>
<rect x="495" y="657" width="1" height="74" fill="#c0c0c0"/>
<rect x="503" y="657" width="1" height="69" fill="#c0c0c0"/>
<rect x="511" y="657" width="1" height="60" fill="#c0c0c0"/>
<rect x="519" y="657" width="1" height="52" fill="#c0c0c0"/>
<rect x="527" y="657" width="1" height="45" fill="#c0c0c0"/>
<rect x="535" y="657" width="1" height="36" fill="#c0c0c0"/>
<rect x="543" y="657" width="1" height="31" fill="#c0c0c0"/>
<rect x="551" y="657" width="1" height="27" fill="#c0c0c0"/>
<rect x="559" y="657" width="1" height="25" fill="#c0c0c0"/>
<rect x="567" y="657" width="1" height="24" fill="#c0c0c0"/>
<rect x="575" y="657" width="1" height="22" fill="#c0c0c0"/>
<rect x="583" y="657" width="1" height="23" fill="#c0c0c0"/>
<rect x="591" y="657" width="1" height="21" fill="#c0c0c0"/>
<rect x="599" y="657" width="1" height="18" fill="#c0c0c0"/>
<rect x="607" y="657" width="1" height="18" fill="#c0c0c0"/>
<rect x="615" y="657" width="1" height="17" fill="#c0c0c0"/>
<rect x="623" y="657" width="1" height="14" fill="#c0c0c0"/>
<rect x="631" y="657" width="1" height="13" fill="#c0c0c0"/>
<rect x="639" y="657" width="1" height="10" fill="#c0c0c0"/>
<rect x="647" y="657" width="1" height="8" fill="#c0c0c0"/>
<rect x="655" y="657" width="1" height="9" fill="#c0c0c0"/>
<rect x="663" y="657" width="1" height="9" fill="#c0c0c0"/>
<rect x="671" y="657" width="1" height="9" fill="#c0c0c0"/>
<rect x="679" y="657" width="1" height="8" fill="#c0c0c0"/>
<rect x="687" y="657" width="1" height="8" fill="#c0c0c0"/>
<rect x="695" y="657" width="1" height="6" fill="#c0c0c0"/>
<rect x="703" y="657" width="1" height="3" fill="#c0c0c0"/>
<rect x="711" y="656" width="1" height="1" fill="#c0c0c0"/>
<rect x="719" y="654" width="1" height="3" fill="#c0c0c0"/>
<rect x="727" y="651" width="1" height="6" fill="#c0c0c0"/>
<rect x="735" y="643" width="1" height="14" fill="#c0c0c0"/>
<rect x="743" y="637" width="1" height="20" fill="#c0c0c0"/>
<rect x="751" y="632" width="1" height="25" fill="#c0c0c0"/>
<rect x="759" y="624" width="1" height="33" fill="#c0c0c0"/>
<rect x="767" y="619" width="1" height="38" fill="#c0c0c0"/>
<rect x="775" y="613" width="1" height="44" fill="#c0c0c0"/>
<rect x="783" y="608" width="1" height="49" fill="#c0c0c0"/>
<rect x="791" y="606" width="1" height="51" fill="#c0c0c0"/>
<rect x="799" y="603" width="1" height="54" fill="#c0c0c0"/>
<rect x="807" y="602" width="1" height="55" fill="#c0c0c0"/>
<rect x="815" y="602" width="1" height="55" fill="#c0c0c0"/>
<rect x="823" y="602" width="1" height="55" fill="#c0c0c0"/>
<rect x="831" y="599" width="1" height="58" fill="#c0c0c0"/>
<rect x="839" y="595" width="1" height="62" fill="#c0c0c0"/>
<rect x="847" y="591" width="1" height="66" fill="#c0c0c0"/>
<rect x="855" y="588" width="1" height="69" fill="#c0c0c0"/>
<rect x="863" y="586" width="1" height="71" fill="#c0c0c0"/>
<rect x="871" y="586" width="1" height="71" fill="#c0c0c0"/>
<rect x="879" y="588" width="1" height="69" fill="#c0c0c0"/>
<rect x="887" y="589" width="1" height="68" fill="#c0c0c0"/>
<rect x="895" y="590" width="1" height="67" fill="#c0c0c0"/>
<rect x="903" y="591" width="1" height="66" fill="#c0c0c0"/>
<rect x="911" y="595" width="1" height="62" fill="#c0c0c0"/>
<rect x="919" y="598" width="1" height="59" fill="#c0c0c0"/>
<rect x="927" y="597" width="1" height="60" fill="#c0c0c0"/>
<rect x="935" y="595" width="1" height="62" fill="#c0c0c0"/>
<rect x="943" y="594" width="1" height="63" fill="#c0c0c0"/>
<rect x="951" y="594" width="1" height="63" fill="#c0c0c0"/>
<rect x="959" y="594" width="1" height="63" fill="#c0c0c0"/>
<rect x="967" y="592" width="1" height="65" fill="#c0c0c0"/>
<rect x="975" y="594" width="1" height="63" fill="#c0c0c0"/>
<rect x="983" y="595" width="1" height="62" fill="#c0c0c0"/>
<rect x="991" y="598" width="1" height="59" fill="#c0c0c0"/>
<rect x="999" y="602" width="1" height="55" fill="#c0c0c0"/>
<rect x="1007" y="606" width="1" height="51" fill="#c0c0c0"/>
<rect x="1015" y="606" width="1" height="51" fill="#c0c0c0"/>
<rect x="1023" y="604" width="1" height="53" fill="#c0c0c0"/>
<rect x="1031" y="604" width="1" height="53" fill="#c0c0c0"/>
<rect x="1039" y="600" width="1" height="57" fill="#c0c0c0"/>
<rect x="1047" y="598" width="1" height="59" fill="#c0c0c0"/>
<rect x="1055" y="597" width="1" height="60" fill="#c0c0c0"/>
<rect x="1063" y="602" width="1" height="55" fill="#c0c0c0"/>
<rect x="1071" y="603" width="1" height="54" fill="#c0c0c0"/>
<rect x="1079" y="604" width="1" height="53" fill="#c0c0c0"/>
<rect x="1087" y="605" width="1" height="52" fill="#c0c0c0"/>
<rect x="1095" y="607" width="1" height="50" fill="#c0c0c0"/>
<rect x="1103" y="611" width="1" height="46" fill="#c0c0c0"/>
<rect x="1111" y="616" width="1" height="41" fill="#c0c0c0"/>
<rect x="1119" y="618" width="1" height="39" fill="#c0c0c0"/>
<rect x="1127" y="621" width="1" height="36" fill="#c0c0c0"/>
<rect x="1135" y="624" width="1" height="33" fill="#c0c0c0"/>
<rect x="1143" y="624" width="1" height="33" fill="#c0c0c0"/>
<rect x="1151" y="627" width="1" height="30" fill="#c0c0c0"/>
<rect x="1159" y="630" width="1" height="27" fill="#c0c0c0"/>
<rect x="1167" y="628" width="1" height="29" fill="#c0c0c0"/>
<rect x="1175" y="627" width="1" height="30" fill="#c0c0c0"/>
<rect x="1183" y="625" width="1" height="32" fill="#c0c0c0"/>
<rect x="1191" y="624" width="1" height="33" fill="#c0c0c0"/>
<rect x="1199" y="623" width="1" height="34" fill="#c0c0c0"/>
<rect x="1207" y="630" width="1" height="27" fill="#c0c0c0"/>
<rect x="1215" y="634" width="1" height="23" fill="#c0c0c0"/>
<rect x="1223" y="636" width="1" height="21" fill="#c0c0c0"/>
<rect x="1231" y="641" width="1" height="16" fill="#c0c0c0"/>
<rect x="1239" y="644" width="1" height="13" fill="#c0c0c0"/>
<rect x="1247" y="649" width="1" height="8" fill="#c0c0c0"/>
<rect x="1255" y="651" width="1" height="6" fill="#c0c0c0"/>
<rect x="1263" y="652" width="1" height="5" fill="#c0c0c0"/>
<rect x="1271" y="654" width="1" height="3" fill="#c0c0c0"/>
<rect x="1279" y="656" width="1" height="1" fill="#c0c0c0"/>
<rect x="1287" y="657" width="1" height="1" fill="#c0c0c0"/>
<rect x="1295" y="657" width="1" height="5" fill="#c0c0c0"/>
<rect x="1303" y="657" width="1" height="4" fill="#c0c0c0"/>
<rect x="1311" y="657" width="1" height="2" fill="#c0c0c0"/>
<rect x="1367" y="656" width="1" height="1" fill="#c0c0c0"/>
<rect x="1375" y="656" width="1" height="1" fill="#c0c0c0"/>
<rect x="1383" y="655" width="1" height="2" fill="#c0c0c0"/>
<polyline points="0.0,684.5 16.5,681.9 36.3,678.3 49.5,678.6 62.7,680.3 75.9,686.2 87.4,689.5 95.7,692.8 108.9,694.4 122.1,693.8 132.0,689.5 148.5,680.3 165.0,671.3 178.2,664.7 193.0,659.1 207.9,655.8 224.4,652.5 250.8,652.5 264.0,654.2 273.9,655.8 290.4,657.5 306.9,658.1 323.4,657.2 336.6,657.5 349.8,660.5 363.0,665.4 379.5,672.3 396.0,684.5 412.5,695.4 429.0,705.3 445.5,714.9 462.0,723.2 478.5,729.1 495.0,731.7 504.9,732.7 514.8,730.7 528.0,725.8 541.2,717.5 543.3,715.2 556.5,706.0 573.0,694.4 586.2,687.8 599.4,681.9 612.6,679.6 629.1,677.3 645.6,673.0 662.1,670.4 681.9,668.0 705.0,664.7 723.1,662.1 738.0,658.1 751.2,651.5 761.1,644.9 774.3,636.7 787.5,627.8 800.7,620.2 810.6,613.6 820.5,609.6 830.4,606.3 846.9,599.7 856.8,598.1 865.0,594.8 879.9,593.1 886.5,589.8 903.0,588.2 912.9,588.2 922.8,589.8 939.3,591.5 952.5,593.1 969.0,593.8 1002.0,594.5 1011.9,597.1 1035.0,599.4 1048.2,601.1 1068.0,601.4 1094.4,601.4 1099.9,602.0 1111.4,603.7 1126.3,609.3 1146.1,614.3 1162.6,620.2 1182.4,624.5 1198.9,624.8 1215.4,626.1 1238.5,629.4 1248.4,633.4 1261.6,637.7 1274.8,643.3 1291.3,649.2 1304.5,654.8 1321.0,658.1 1334.2,660.5 1350.7,663.1 1367.2,663.1 1380.4,661.4" fill="none" stroke="#ff0000" stroke-width="1" stroke-dasharray="3 2"/>
</g>
<g shape-rendering="crispEdges">
<line x1="-2" y1="784.5" x2="1650" y2="784.5" stroke="#c0c0c0" stroke-width="1" stroke-dasharray="3 3"/>
<line x1="-2" y1="835.5" x2="1650" y2="835.5" stroke="#c0c0c0" stroke-width="1" stroke-dasharray="3 3"/>
<line x1="-2" y1="896.5" x2="1650" y2="896.5" stroke="#c0c0c0" stroke-width="1" stroke-dasharray="3 3"/>
</g>
<g clip-path="url(#cRsi)"><polyline points="0.0,839.4 7.0,840.7 15.0,837.4 23.0,841.7 31.0,850.9 39.0,856.5 47.0,860.5 55.0,870.7 63.0,874.0 71.0,870.7 79.0,867.1 87.0,846.6 95.0,845.0 103.0,840.0 111.0,835.1 119.0,825.2 127.0,817.9 135.0,819.6 143.0,837.7 151.0,842.4 159.0,831.1 167.0,829.2 175.0,828.5 183.0,832.5 191.0,823.5 199.0,820.2 207.0,830.1 215.0,830.1 223.0,844.0 231.0,845.7 239.0,841.0 247.0,845.0 255.0,840.0 263.0,835.8 271.0,830.1 279.0,831.1 287.0,830.1 295.0,832.5 303.0,838.4 311.0,835.8 319.0,845.0 327.0,850.3 335.0,842.4 343.0,863.8 351.0,860.5 359.0,863.1 367.0,864.1 375.0,866.4 383.0,875.4 391.0,883.9 399.0,879.6 407.0,863.1 415.0,871.4 423.0,871.4 431.0,877.0 439.0,868.8 447.0,878.0 455.0,875.4 463.0,876.3 471.0,876.3 479.0,871.4 487.0,872.4 495.0,859.2 503.0,857.2 511.0,842.7 519.0,839.4 527.0,841.0 535.0,829.5 543.0,835.8 551.0,840.0 559.0,845.0 567.0,846.6 575.0,839.4 583.0,852.3 591.0,838.4 599.0,835.8 607.0,844.0 615.0,846.6 623.0,835.1 631.0,838.4 639.0,833.4 647.0,832.5 655.0,843.3 663.0,839.1 671.0,843.3 679.0,834.1 687.0,842.4 695.0,833.4 703.0,828.5 711.0,821.2 719.0,829.2 727.0,823.5 735.0,812.0 743.0,808.7 751.0,810.3 759.0,802.1 767.0,799.8 775.0,797.8 783.0,797.1 791.0,803.1 799.0,798.1 807.0,801.4 815.0,805.4 823.0,802.1 831.0,796.5 839.0,791.2 847.0,788.2 855.0,787.2 863.0,787.2 871.0,792.2 879.0,793.8 887.0,791.2 895.0,791.2 903.0,788.9 911.0,806.1 919.0,802.1 927.0,792.2 935.0,788.2 943.0,791.5 951.0,789.6 959.0,789.6 967.0,782.3 975.0,793.8 983.0,802.1 991.0,803.7 999.0,812.0 1007.0,811.3 1015.0,801.1 1023.0,794.5 1031.0,794.5 1039.0,789.6 1047.0,786.3 1055.0,791.2 1063.0,814.3 1071.0,809.4 1079.0,805.4 1087.0,805.4 1095.0,805.4 1103.0,818.6 1111.0,822.9 1119.0,816.9 1127.0,820.9 1135.0,819.3 1143.0,814.6 1151.0,821.2 1159.0,826.2 1167.0,811.3 1175.0,808.7 1183.0,806.4 1191.0,805.4 1199.0,806.1 1207.0,838.4 1215.0,833.4 1223.0,829.2 1231.0,840.0 1239.0,838.4 1247.0,843.3 1255.0,835.1 1263.0,836.7 1271.0,841.0 1279.0,847.3 1287.0,851.3 1295.0,849.3 1303.0,841.7 1311.0,837.7 1319.0,834.4 1327.0,840.0 1335.0,841.7 1343.0,845.0 1351.0,841.7 1359.0,838.4 1367.0,825.2 1375.0,820.2 1383.0,822.6" fill="none" stroke="#1e90ff" stroke-width="1" shape-rendering="crispEdges"/></g>
<g shape-rendering="crispEdges" fill="#000">
<rect x="0" y="21" width="1651" height="1"/>
<rect x="1650" y="21" width="1" height="902"/>
<rect x="0" y="574" width="1651" height="1"/>
<rect x="0" y="576" width="1651" height="1"/>
<rect x="0" y="746" width="1651" height="1"/>
<rect x="0" y="748" width="1651" height="1"/>
<rect x="0" y="922" width="1651" height="1"/>
<rect x="0" y="575" width="1650" height="1" fill="#fff"/>
<rect x="0" y="747" width="1650" height="1" fill="#fff"/>
<rect x="55" y="923" width="1" height="3"/>
<rect x="119" y="923" width="1" height="3"/>
<rect x="183" y="923" width="1" height="3"/>
<rect x="247" y="923" width="1" height="3"/>
<rect x="311" y="923" width="1" height="3"/>
<rect x="375" y="923" width="1" height="3"/>
<rect x="439" y="923" width="1" height="3"/>
<rect x="503" y="923" width="1" height="3"/>
<rect x="567" y="923" width="1" height="3"/>
<rect x="631" y="923" width="1" height="3"/>
<rect x="695" y="923" width="1" height="3"/>
<rect x="759" y="923" width="1" height="3"/>
<rect x="823" y="923" width="1" height="3"/>
<rect x="887" y="923" width="1" height="3"/>
<rect x="951" y="923" width="1" height="3"/>
<rect x="1015" y="923" width="1" height="3"/>
<rect x="1079" y="923" width="1" height="3"/>
<rect x="1143" y="923" width="1" height="3"/>
<rect x="1207" y="923" width="1" height="3"/>
<rect x="1271" y="923" width="1" height="3"/>
<rect x="1335" y="923" width="1" height="3"/>
<rect x="1651" y="44" width="2" height="1"/>
<rect x="1651" y="176" width="2" height="1"/>
<rect x="1651" y="209" width="2" height="1"/>
<rect x="1651" y="242" width="2" height="1"/>
<rect x="1651" y="275" width="2" height="1"/>
<rect x="1651" y="308" width="2" height="1"/>
<rect x="1651" y="341" width="2" height="1"/>
<rect x="1651" y="374" width="2" height="1"/>
<rect x="1651" y="407" width="2" height="1"/>
<rect x="1651" y="440" width="2" height="1"/>
<rect x="1651" y="473" width="2" height="1"/>
<rect x="1651" y="506" width="2" height="1"/>
<rect x="1651" y="539" width="2" height="1"/>
<rect x="1651" y="572" width="2" height="1"/>
<rect x="1651" y="657" width="2" height="1"/>
<rect x="1651" y="577" width="2" height="1"/>
<rect x="1651" y="745" width="2" height="1"/>
<rect x="1651" y="749" width="2" height="1"/>
</g>
<rect x="1696" y="18" width="1" height="915" fill="#c4c4c4" shape-rendering="crispEdges"/>
<polygon points="1394,22 1405,22 1399.5,27.5" fill="#c0c0c0"/>
<text x="1656" y="46.8" font-size="9.3" fill="#000" text-anchor="start" >28442.0</text>
<text x="1656" y="79.8" font-size="9.3" fill="#000" text-anchor="start" >28172.0</text>
<text x="1656" y="112.8" font-size="9.3" fill="#000" text-anchor="start" >27909.5</text>
<text x="1656" y="178.8" font-size="9.3" fill="#000" text-anchor="start" >27384.5</text>
<text x="1656" y="211.8" font-size="9.3" fill="#000" text-anchor="start" >27122.0</text>
<text x="1656" y="244.8" font-size="9.3" fill="#000" text-anchor="start" >26852.0</text>
<text x="1656" y="277.8" font-size="9.3" fill="#000" text-anchor="start" >26589.5</text>
<text x="1656" y="310.8" font-size="9.3" fill="#000" text-anchor="start" >26327.0</text>
<text x="1656" y="343.8" font-size="9.3" fill="#000" text-anchor="start" >26064.5</text>
<text x="1656" y="376.8" font-size="9.3" fill="#000" text-anchor="start" >25802.0</text>
<text x="1656" y="409.8" font-size="9.3" fill="#000" text-anchor="start" >25539.5</text>
<text x="1656" y="442.8" font-size="9.3" fill="#000" text-anchor="start" >25269.5</text>
<text x="1656" y="475.8" font-size="9.3" fill="#000" text-anchor="start" >25007.0</text>
<text x="1656" y="508.8" font-size="9.3" fill="#000" text-anchor="start" >24744.5</text>
<text x="1656" y="541.8" font-size="9.3" fill="#000" text-anchor="start" >24482.0</text>
<text x="1656" y="574.8" font-size="9.3" fill="#000" text-anchor="start" >24219.5</text>
<text x="1654" y="586.6" font-size="9.3" fill="#000" text-anchor="start" >469.42</text>
<text x="1654" y="660.1" font-size="9.3" fill="#000" text-anchor="start" >0.00</text>
<text x="1654" y="742.6" font-size="9.3" fill="#000" text-anchor="start" >-519.1</text>
<text x="1654" y="758.6" font-size="9.3" fill="#000" text-anchor="start" >100</text>
<text x="1654" y="787.6" font-size="9.3" fill="#000" text-anchor="start" >80</text>
<text x="1654" y="838.6" font-size="9.3" fill="#000" text-anchor="start" >50</text>
<text x="1654" y="899.6" font-size="9.3" fill="#000" text-anchor="start" >15</text>
<text x="1654" y="918.6" font-size="9.3" fill="#000" text-anchor="start" >0</text>
<rect x="1652" y="46" width="41" height="11" fill="#ff0000" shape-rendering="crispEdges"/>
<text x="1656" y="55" font-size="9.3" fill="#fff" text-anchor="start" >28363.5</text>
<rect x="1652" y="68" width="41" height="11" fill="#ff0000" shape-rendering="crispEdges"/>
<text x="1656" y="77" font-size="9.3" fill="#fff" text-anchor="start" >28187.9</text>
<rect x="1652" y="97" width="41" height="11" fill="#000" shape-rendering="crispEdges"/>
<text x="1656" y="106" font-size="9.3" fill="#fff" text-anchor="start" >27970.0</text>
<rect x="1652" y="110" width="41" height="11" fill="#32cd32" shape-rendering="crispEdges"/>
<text x="1656" y="119" font-size="9.3" fill="#fff" text-anchor="start" >27852.7</text>
<rect x="1652" y="139" width="41" height="11" fill="#0000ff" shape-rendering="crispEdges"/>
<text x="1656" y="148" font-size="9.3" fill="#fff" text-anchor="start" >27621.2</text>
<rect x="1652" y="160" width="41" height="11" fill="#0000ff" shape-rendering="crispEdges"/>
<text x="1656" y="169" font-size="9.3" fill="#fff" text-anchor="start" >27453.6</text>
<rect x="1645.5" y="50.5" width="4" height="4" fill="#fff" stroke="#ff0000" stroke-width="1" shape-rendering="crispEdges"/>
<rect x="1645.5" y="114.5" width="4" height="4" fill="#fff" stroke="#32cd32" stroke-width="1" shape-rendering="crispEdges"/>
<rect x="1645.5" y="143.5" width="4" height="4" fill="#fff" stroke="#0000ff" stroke-width="1" shape-rendering="crispEdges"/>
<text x="0.5" y="32.6" font-size="9.3" fill="#000" text-anchor="start" xml:space="preserve">- JPN225-,H4&#160; 27990.0 28017.5 27955.0 27970.0</text>
<text x="-3" y="589" font-size="9.3" fill="#000" text-anchor="start" >MACD(12,26,9) 16.89 -22.07</text>
<text x="-5.5" y="761" font-size="9.3" fill="#000" text-anchor="start" >RSI(14) 58.0468</text>
<text x="-12" y="934.2" font-size="9.3" fill="#000" text-anchor="start" >22 Feb 2022</text>
<text x="55.5" y="934.2" font-size="9.3" fill="#000" text-anchor="start" >24 Feb 00:00</text>
<text x="119.5" y="934.2" font-size="9.3" fill="#000" text-anchor="start" >25 Feb 10:55</text>
<text x="183.5" y="934.2" font-size="9.3" fill="#000" text-anchor="start" >28 Feb 18:55</text>
<text x="247.5" y="934.2" font-size="9.3" fill="#000" text-anchor="start" >2 Mar 00:00</text>
<text x="311.5" y="934.2" font-size="9.3" fill="#000" text-anchor="start" >3 Mar 10:55</text>
<text x="375.5" y="934.2" font-size="9.3" fill="#000" text-anchor="start" >4 Mar 18:55</text>
<text x="439.5" y="934.2" font-size="9.3" fill="#000" text-anchor="start" >8 Mar 00:00</text>
<text x="503.5" y="934.2" font-size="9.3" fill="#000" text-anchor="start" >9 Mar 10:55</text>
<text x="567.5" y="934.2" font-size="9.3" fill="#000" text-anchor="start" >10 Mar 18:55</text>
<text x="631.5" y="934.2" font-size="9.3" fill="#000" text-anchor="start" >14 Mar 00:00</text>
<text x="695.5" y="934.2" font-size="9.3" fill="#000" text-anchor="start" >15 Mar 10:55</text>
<text x="759.5" y="934.2" font-size="9.3" fill="#000" text-anchor="start" >16 Mar 18:55</text>
<text x="823.5" y="934.2" font-size="9.3" fill="#000" text-anchor="start" >18 Mar 00:00</text>
<text x="887.5" y="934.2" font-size="9.3" fill="#000" text-anchor="start" >21 Mar 10:55</text>
<text x="951.5" y="934.2" font-size="9.3" fill="#000" text-anchor="start" >22 Mar 18:55</text>
<text x="1015.5" y="934.2" font-size="9.3" fill="#000" text-anchor="start" >24 Mar 00:00</text>
<text x="1079.5" y="934.2" font-size="9.3" fill="#000" text-anchor="start" >25 Mar 10:55</text>
<text x="1143.5" y="934.2" font-size="9.3" fill="#000" text-anchor="start" >28 Mar 18:55</text>
<text x="1207.5" y="934.2" font-size="9.3" fill="#000" text-anchor="start" >30 Mar 00:00</text>
<text x="1271.5" y="934.2" font-size="9.3" fill="#000" text-anchor="start" >31 Mar 10:55</text>
<text x="1335.5" y="934.2" font-size="9.3" fill="#000" text-anchor="start" >1 Apr 18:55</text>
<g shape-rendering="crispEdges">
<rect x="0" y="40" width="215" height="59" fill="#fff"/>
<rect x="0" y="41" width="46" height="25" fill="url(#gSell)"/>
<rect x="161" y="41" width="52" height="25" fill="url(#gSell)"/>
<rect x="0" y="41" width="46" height="1" fill="#c81e1e"/><rect x="45" y="41" width="1" height="25" fill="#c81e1e"/>
<rect x="161" y="41" width="52" height="1" fill="#c81e1e"/><rect x="161" y="41" width="1" height="25" fill="#c81e1e"/><rect x="212" y="41" width="1" height="25" fill="#c81e1e"/>
<rect x="0" y="65" width="103" height="33" fill="url(#gPrice)"/>
<rect x="105" y="65" width="108" height="33" fill="url(#gPrice)"/>
<rect x="0" y="65" width="42" height="1" fill="#f08080"/><rect x="165" y="65" width="44" height="1" fill="#f08080"/>
<rect x="48.5" y="41.5" width="110" height="21" fill="#fff" stroke="#a0a4ac" stroke-width="1"/>
<rect x="50" y="43" width="19" height="18" fill="url(#gBtn)"/>
<rect x="69" y="42" width="1" height="20" fill="#a0a4ac"/>
<rect x="138" y="43" width="19" height="18" fill="url(#gBtn)"/>
<rect x="137" y="42" width="1" height="20" fill="#a0a4ac"/>
</g>
<polygon points="55.5,50 61.5,50 58.5,53.5" fill="#4a5ec8"/>
<polygon points="144.5,53 150.5,53 147.5,49.5" fill="#4a5ec8"/>
<text x="134" y="56.5" font-size="13" fill="#000" text-anchor="end" >1.00</text>
<text x="6.3" y="57" font-size="12.3" fill="#fff" text-anchor="start" textLength="25.5" lengthAdjust="spacingAndGlyphs">SELL</text>
<text x="174.5" y="57" font-size="12.3" fill="#fff" text-anchor="start" textLength="23" lengthAdjust="spacingAndGlyphs">BUY</text>
<text x="10" y="93" font-size="11.8" fill="#fff" text-anchor="start" font-weight="bold" textLength="34.5" lengthAdjust="spacingAndGlyphs">27968</text>
<text x="120.5" y="93" font-size="11.8" fill="#fff" text-anchor="start" font-weight="bold" textLength="34.5" lengthAdjust="spacingAndGlyphs">27991</text>
<rect x="50" y="89" width="3.5" height="3.7" fill="#fff"/><rect x="160.5" y="89" width="3.5" height="3.7" fill="#fff"/>
<text x="56.5" y="93" font-size="35" fill="#fff" text-anchor="start" textLength="16" lengthAdjust="spacingAndGlyphs">5</text>
<text x="167.5" y="93" font-size="35" fill="#fff" text-anchor="start" textLength="16" lengthAdjust="spacingAndGlyphs">5</text>
<path d="M67 64.5 l1.5 -1.5 l1.5 1.5" stroke="#000" fill="#9fe" stroke-width="0.7"/>
<g id="toolbar">
<rect x="0" y="0" width="1697" height="17" fill="#f0f0f0"/>
<rect x="0" y="17" width="1697" height="1" fill="#a8a8a8" shape-rendering="crispEdges"/>
<rect x="0" y="18" width="1697" height="1" fill="#6e6e6e" shape-rendering="crispEdges"/>
<rect x="0" y="19" width="1697" height="2" fill="#ffffff" shape-rendering="crispEdges"/>
<rect x="11" y="0" width="1" height="15" fill="#a0a0a0" shape-rendering="crispEdges"/>
<rect x="12" y="0" width="1" height="15" fill="#ffffff" shape-rendering="crispEdges"/>
<rect x="247" y="0" width="1" height="15" fill="#a0a0a0" shape-rendering="crispEdges"/>
<rect x="248" y="0" width="1" height="15" fill="#ffffff" shape-rendering="crispEdges"/>
<rect x="342" y="0" width="1" height="15" fill="#a0a0a0" shape-rendering="crispEdges"/>
<rect x="343" y="0" width="1" height="15" fill="#ffffff" shape-rendering="crispEdges"/>
<rect x="433" y="0" width="1" height="15" fill="#a0a0a0" shape-rendering="crispEdges"/>
<rect x="434" y="0" width="1" height="15" fill="#ffffff" shape-rendering="crispEdges"/>
<rect x="494" y="0" width="1" height="15" fill="#a0a0a0" shape-rendering="crispEdges"/>
<rect x="495" y="0" width="1" height="15" fill="#ffffff" shape-rendering="crispEdges"/>
<rect x="616" y="0" width="1" height="15" fill="#a0a0a0" shape-rendering="crispEdges"/>
<rect x="617" y="0" width="1" height="15" fill="#ffffff" shape-rendering="crispEdges"/>
<rect x="682" y="0" width="1" height="15" fill="#a0a0a0" shape-rendering="crispEdges"/>
<rect x="683" y="0" width="1" height="15" fill="#ffffff" shape-rendering="crispEdges"/>
<rect x="921" y="0" width="1" height="15" fill="#a0a0a0" shape-rendering="crispEdges"/>
<rect x="922" y="0" width="1" height="15" fill="#ffffff" shape-rendering="crispEdges"/>
<rect x="1182" y="0" width="1" height="15" fill="#a0a0a0" shape-rendering="crispEdges"/>
<rect x="1183" y="0" width="1" height="15" fill="#ffffff" shape-rendering="crispEdges"/>
<rect x="251" y="1" width="3" height="1" fill="#b0b0b0" shape-rendering="crispEdges"/>
<rect x="251" y="3" width="3" height="1" fill="#b0b0b0" shape-rendering="crispEdges"/>
<rect x="251" y="5" width="3" height="1" fill="#b0b0b0" shape-rendering="crispEdges"/>
<rect x="251" y="7" width="3" height="1" fill="#b0b0b0" shape-rendering="crispEdges"/>
<rect x="251" y="9" width="3" height="1" fill="#b0b0b0" shape-rendering="crispEdges"/>
<rect x="251" y="11" width="3" height="1" fill="#b0b0b0" shape-rendering="crispEdges"/>
<rect x="251" y="13" width="3" height="1" fill="#b0b0b0" shape-rendering="crispEdges"/>
<rect x="619" y="1" width="3" height="1" fill="#b0b0b0" shape-rendering="crispEdges"/>
<rect x="619" y="3" width="3" height="1" fill="#b0b0b0" shape-rendering="crispEdges"/>
<rect x="619" y="5" width="3" height="1" fill="#b0b0b0" shape-rendering="crispEdges"/>
<rect x="619" y="7" width="3" height="1" fill="#b0b0b0" shape-rendering="crispEdges"/>
<rect x="619" y="9" width="3" height="1" fill="#b0b0b0" shape-rendering="crispEdges"/>
<rect x="619" y="11" width="3" height="1" fill="#b0b0b0" shape-rendering="crispEdges"/>
<rect x="619" y="13" width="3" height="1" fill="#b0b0b0" shape-rendering="crispEdges"/>
<rect x="925" y="1" width="3" height="1" fill="#b0b0b0" shape-rendering="crispEdges"/>
<rect x="925" y="3" width="3" height="1" fill="#b0b0b0" shape-rendering="crispEdges"/>
<rect x="925" y="5" width="3" height="1" fill="#b0b0b0" shape-rendering="crispEdges"/>
<rect x="925" y="7" width="3" height="1" fill="#b0b0b0" shape-rendering="crispEdges"/>
<rect x="925" y="9" width="3" height="1" fill="#b0b0b0" shape-rendering="crispEdges"/>
<rect x="925" y="11" width="3" height="1" fill="#b0b0b0" shape-rendering="crispEdges"/>
<rect x="925" y="13" width="3" height="1" fill="#b0b0b0" shape-rendering="crispEdges"/>
<rect x="287" y="0" width="24" height="15" fill="#f8f8f8"/>
<rect x="438" y="0" width="24" height="15" fill="#f8f8f8"/>
<rect x="466" y="0" width="24" height="15" fill="#f8f8f8"/>
<rect x="626" y="0" width="24" height="15" fill="#f8f8f8"/>
<rect x="1072" y="0" width="24" height="15" fill="#f8f8f8"/>
<rect x="285" y="0" width="1" height="15" fill="#a0a0a0" shape-rendering="crispEdges"/>
<rect x="437" y="0" width="1" height="15" fill="#a0a0a0" shape-rendering="crispEdges"/>
<rect x="465" y="0" width="1" height="15" fill="#a0a0a0" shape-rendering="crispEdges"/>
<rect x="625" y="0" width="1" height="15" fill="#a0a0a0" shape-rendering="crispEdges"/>
<rect x="1071" y="0" width="1" height="15" fill="#a0a0a0" shape-rendering="crispEdges"/>
<path d="M0 9 L3 13" stroke="#d8a520" stroke-width="2.2" fill="none"/>
<path d="M21.7 0 V10.1 H32 V0" fill="#fff" stroke="#7a7a7a" stroke-width="1"/>
<path d="M23.5 0.5 H30 M23.5 3.5 H30 M23.5 5.6 H27.500 M23.5 7.7 H26" stroke="#999" stroke-width="0.9"/>
<path d="M31.1 3.3 V14.6 M25.2 8.8 H36.8" stroke="#149a14" stroke-width="3.8" fill="none"/>
<path d="M31.1 4.2 V13.7 M26.1 8.8 H35.9" stroke="#3fe23f" stroke-width="2" fill="none"/>
<g stroke="#111" stroke-width="1.25" fill="none">
<path d="M40.5 1.9 H46.3 M43.4 0 V8.7 M42.3 4.2 L40.8 7 M44.8 4.2 L46.2 6.6 M47.6 1.9 H53.7 M49 1.9 V6 Q49 8 47.8 8.7 M52.3 1.9 V8.7"/>
<path d="M55.2 0 V6.6 L57 5 M60.6 0 V7.6 Q60.6 8.7 59.4 8.7 L58 8.5"/>
<path d="M66 0 V3.5 H74 V0 M66 1.4 H74 M64 6.4 H76 M70 0 V8.7"/>
</g>
<path d="M93 0 L88.2 7 L95.8 12.3 L103.8 7.4 L97.7 0 Z" fill="#eec02a"/>
<path d="M93.8 0 L90.5 5.6 L96.3 9.6 L101.3 6.3 L97 0 Z" fill="#f8d850"/>
<path d="M88.2 7 L95.8 12.3 L103.8 7.4" fill="none" stroke="#a66a10" stroke-width="1.5"/>
<path d="M96.6 10.5 L103 6.5" fill="none" stroke="#d8c48a" stroke-width="1.2"/>
<path d="M93 0 L88.2 7 M97.7 0 L103.8 7.4" fill="none" stroke="#b88418" stroke-width="0.9"/>
<rect x="118" y="0" width="10.8" height="6.5" fill="#10a0f4"/><rect x="120.8" y="0" width="1" height="5.5" fill="#e8f6ff"/><rect x="123.6" y="1.8" width="4" height="1.1" fill="#d6efff"/>
<path d="M118.6 12.3 Q116.2 12.3 116.4 10 Q116.8 8.2 119.4 8.4 Q120.4 5.6 123.6 5.600 Q126.400 5.600 127.4 7.4 Q131.600 7 131.800 10 Q131.800 12.3 129.4 12.3 Z" fill="#e8ecf6" stroke="#5674b4" stroke-width="1.1"/>
<path d="M152.2 4.7 L152.2 12.8 Q158.500 12 159.600 5.5 Q159.400 1.500 157 0 L152.2 4.700 Z" fill="#58b058" opacity="0.55"/>
<circle cx="152" cy="4.700" r="4.300" fill="none" stroke="#5c8ce0" stroke-width="1.2" stroke-dasharray="2.2 1.2"/>
<circle cx="152" cy="4.700" r="7.300" fill="none" stroke="#7aa4ea" stroke-width="1.2" stroke-dasharray="2.600 1.400"/>
<circle cx="152" cy="4.700" r="2" fill="#2b62d8"/>
<path d="M152.300 5.200 V12.800" stroke="#1ea41e" stroke-width="1.500" fill="none"/>
<path d="M172.500 3.600 L177.200 11.600 Q178.800 13 180.600 12.400 L186.600 3.600 Q180 7 172.500 3.600 Z" fill="#f6d23c" stroke="#c8a018" stroke-width="0.800"/>
<ellipse cx="179" cy="1.400" rx="7.800" ry="3.100" fill="#58b4e6" stroke="#2f8cc8" stroke-width="0.800"/>
<ellipse cx="178.500" cy="0.400" rx="4.500" ry="1.600" fill="#a8dcf6"/>
<circle cx="183.500" cy="8.700" r="4" fill="#dc2a10"/><rect x="182" y="7.300" width="3" height="2.900" fill="#fff"/>
<g stroke="#111" stroke-width="1.25" fill="none">
<path d="M193.6 0 V8.7 M202 0 V8.7 M193.6 1.2 H202 M193.6 4.2 H202 M193.6 7.3 H202"/>
<path d="M205.2 2.1 H209.4 M207 3.3 L205.8 7.4 M205.2 7.2 L209.8 6.6 M208.6 4.4 L209.8 7.2 M209.8 2.1 H215 M214 2.1 V7.6 Q214 8.7 212.6 8.5 M211.4 0 Q211.4 5 208.4 8.7"/>
<path d="M216.2 0.2 H227.2 M219.6 2.4 L217.8 4.6 M224.6 2.4 L226.4 4.6 M218.4 4.8 Q222 7.2 227 8.7 M225 4.8 Q222 7.4 216.4 8.7"/>
<path d="M230.6 0 V2.4 H237.8 V0 M230.6 0.5 H237.8 M229.2 4.5 H238.6 M238.4 4.5 V7.6 Q238.4 8.7 237 8.5 M232 4.6 L229.2 7.2 M234.4 4.8 L231.2 8.7 M236.8 4.8 L234 8.7"/>
</g>
<path d="M265.8 0 V12.800 M263 10.600 H276.6 M275 9.200 L276.8 10.600 L275 12" stroke="#555" stroke-width="1.1" fill="none"/>
<path d="M272 0 V8 M269.800 7.500 H272 M272 1.400 H274.200" stroke="#2a9a2a" stroke-width="1.500" fill="none"/>
<path d="M293.5 0 V12.800 M290.7 10.600 H304.3 M302.7 9.200 L304.5 10.600 L302.7 12" stroke="#555" stroke-width="1.1" fill="none"/>
<rect x="297.400" y="-1" width="4.300" height="7.600" fill="#2fb62f" stroke="#1c7a1c" stroke-width="0.800"/><path d="M299.500 6.600 V8.800" stroke="#1c7a1c" stroke-width="1.100"/>
<path d="M321.6 0 V12.800 M318.8 10.600 H332.40000000000003 M330.8 9.200 L332.6 10.600 L330.8 12" stroke="#555" stroke-width="1.1" fill="none"/>
<path d="M320 7.800 Q324.500 0.500 327 2 Q329.500 3.500 332 6.600" stroke="#2a9a2a" stroke-width="1.300" fill="none"/>
<path d="M360.90000000000003 7 L366.1 12.200" stroke="#8a6a10" stroke-width="3.600" stroke-linecap="butt"/>
<path d="M360.90000000000003 7 L365.8 11.900" stroke="#e8c838" stroke-width="2.200" stroke-linecap="butt"/>
<circle cx="356.8" cy="3.100" r="5.300" fill="#d4e8fa" stroke="#4a90d8" stroke-width="1.500"/>
<path d="M353.90000000000003 3.100 H359.7" stroke="#2f74c4" stroke-width="1.700"/>
<path d="M356.8 0.200 V6" stroke="#2f74c4" stroke-width="1.700"/>
<path d="M389.0 7 L394.2 12.200" stroke="#8a6a10" stroke-width="3.600" stroke-linecap="butt"/>
<path d="M389.0 7 L393.9 11.900" stroke="#e8c838" stroke-width="2.200" stroke-linecap="butt"/>
<circle cx="384.9" cy="3.100" r="5.300" fill="#d4e8fa" stroke="#4a90d8" stroke-width="1.500"/>
<path d="M382.0 3.100 H387.79999999999995" stroke="#2f74c4" stroke-width="1.700"/>
<rect x="407.400" y="0" width="7.400" height="4.600" fill="#3aa83a"/><rect x="415.400" y="0" width="7.400" height="4.600" fill="#3674d8"/>
<rect x="407.400" y="5.400" width="7.400" height="7.300" fill="#3674d8"/><rect x="415.400" y="5.400" width="7.400" height="7.300" fill="#3aa83a"/>
<rect x="408.600" y="8" width="5" height="3.200" fill="#fff"/><rect x="416.600" y="8" width="5" height="3.200" fill="#fff"/><rect x="408.600" y="0.600" width="5" height="2.600" fill="#fff"/><rect x="416.600" y="0.600" width="5" height="2.600" fill="#fff"/>
<rect x="409.600" y="9.200" width="3" height="0.900" fill="#3674d8"/><rect x="417.600" y="9.200" width="3" height="0.900" fill="#3aa83a"/><rect x="409.600" y="1.500" width="3" height="0.900" fill="#3aa83a"/><rect x="417.600" y="1.500" width="3" height="0.900" fill="#3674d8"/>
<path d="M445.8 0 V12.800 M443 10.600 H456.6 M455 9.200 L456.8 10.600 L455 12" stroke="#555" stroke-width="1.1" fill="none"/>
<path d="M450 1.200 L454.600 4.400 L450 7.600 Z" fill="#3fc03f" stroke="#1c8a1c" stroke-width="0.900"/>
<path d="M474.1 0 V12.800 M471.3 10.600 H484.90000000000003 M483.3 9.200 L485.1 10.600 L483.3 12" stroke="#555" stroke-width="1.1" fill="none"/>
<path d="M479.500 0 V9" stroke="#3a78d8" stroke-width="1.100"/><path d="M485.500 4.500 H481.500 M483.600 2.500 L481.300 4.500 L483.600 6.500" stroke="#e04010" stroke-width="1.200" fill="none"/>
<path d="M504.900 0 V10.200 H516 V0" fill="#fff" stroke="#7a7a7a" stroke-width="1"/>
<path d="M508.500 1.500 V5 M508.500 3 H512" stroke="#999" stroke-width="0.900" fill="none"/>
<path d="M514.300 3 V14.700 M508.700 9.100 H519.900" stroke="#149a14" stroke-width="3.800" fill="none"/>
<path d="M514.300 3.900 V13.800 M509.600 9.100 H519" stroke="#3fe23f" stroke-width="2" fill="none"/>
<polygon points="526,4 532,4 529,7.500" fill="#111"/>
<polygon points="565,4 571,4 568,7.500" fill="#111"/>
<polygon points="604,4 610,4 607,7.500" fill="#111"/>
<polygon points="910,4 916,4 913,7.500" fill="#111"/>
<circle cx="549.900" cy="4.800" r="6.700" fill="#eef4fb" stroke="#1a56b8" stroke-width="2.200"/>
<path d="M550 0.500 V5 H553" stroke="#555" stroke-width="1" fill="none"/><path d="M546.500 9 Q550 11 553.500 9" stroke="#9ec0ea" stroke-width="1.200" fill="none"/>
<rect x="581.500" y="0" width="15" height="11.500" fill="#eef4fb" stroke="#2f74c4" stroke-width="1.300"/>
<path d="M583.500 3.500 L587 2.500 L590 3.500 L594.500 2" stroke="#c0392b" stroke-width="1" fill="none"/><path d="M583.500 8.500 L587 7 L590 9 L594.500 7" stroke="#2a9a2a" stroke-width="1" fill="none"/><path d="M582 5.500 H596" stroke="#2f74c4" stroke-width="0.800"/>
<path d="M634 0 L634 9.500 L636.500 7.300 L638.500 12 L640.300 11.200 L638.300 6.800 L641.500 6.500 Z" fill="#333"/>
<path d="M665.500 0 V12.500 M658 5.500 H673" stroke="#555" stroke-width="1.100"/><rect x="664" y="4" width="3" height="3" fill="#f0f0f0"/>
<rect x="699" y="0" width="1" height="12" fill="#555" shape-rendering="crispEdges"/>
<rect x="722" y="5" width="13" height="1" fill="#555" shape-rendering="crispEdges"/>
<path d="M749 11.500 L763 0" stroke="#666" stroke-width="1.100"/>
<path d="M775 8 L789 0 M775 11 L789 3 M777 12.500 L791 4.500" stroke="#555" stroke-width="1" fill="none"/><path d="M779 1 V12 M783 0 V11 M787 0 V9" stroke="#888" stroke-width="0.800" stroke-dasharray="1 1"/>
<text x="786.500" y="14" font-size="6.500" fill="#222" font-weight="bold">E</text>
<path d="M804 1.5 H817" stroke="#666" stroke-width="1" stroke-dasharray="1 1" shape-rendering="crispEdges"/>
<path d="M804 4.5 H817" stroke="#666" stroke-width="1" stroke-dasharray="1 1" shape-rendering="crispEdges"/>
<path d="M804 7.5 H817" stroke="#666" stroke-width="1" stroke-dasharray="1 1" shape-rendering="crispEdges"/>
<path d="M804 10.5 H817" stroke="#666" stroke-width="1" stroke-dasharray="1 1" shape-rendering="crispEdges"/>
<text x="814.500" y="14" font-size="6.500" fill="#222" font-weight="bold">F</text>
<text x="834" y="10.500" font-size="13" fill="#666" font-weight="bold">A</text>
<rect x="861.500" y="0" width="12" height="11" fill="none" stroke="#777" stroke-width="1" stroke-dasharray="1 1" shape-rendering="crispEdges"/>
<text x="864" y="10" font-size="11" fill="#666" font-weight="bold">T</text>
<path d="M890 1 L894 4.500 L890 7.500 Z" fill="#333"/><path d="M898 5 L902 9 L898 12.500 L895 9 Z" fill="#333"/><path d="M893 2 L897 6" stroke="#555" stroke-width="1"/>
<text x="936" y="9.4" font-size="10" fill="#555">M1</text>
<text x="964" y="9.4" font-size="10" fill="#555">M5</text>
<text x="990.5" y="9.4" font-size="10" fill="#555">M15</text>
<text x="1018.5" y="9.4" font-size="10" fill="#555">M30</text>
<text x="1049.5" y="9.4" font-size="10" fill="#555">H1</text>
<text x="1077" y="9.4" font-size="10" fill="#555">H4</text>
<text x="1105.5" y="9.4" font-size="10" fill="#555">D1</text>
<text x="1133" y="9.4" font-size="10" fill="#555">W1</text>
<text x="1159.5" y="9.4" font-size="10" fill="#555">MN</text>
<circle cx="1653.500" cy="1.500" r="4" fill="#eaf2fc" stroke="#2f74c4" stroke-width="1.600"/><path d="M1650.500 5 L1646 9.500" stroke="#2f74c4" stroke-width="2.200" stroke-linecap="round"/>
<path d="M1670 5 Q1670 1 1675 1 H1680 V9 Q1677 10.500 1674.500 10 L1672 13 L1672 9.500 Q1670 8.500 1670 5 Z" fill="#f4f4f4" stroke="#b8b8b8" stroke-width="1"/>
<circle cx="1683.500" cy="0" r="7.500" fill="#dd3a20"/><text x="1683.500" y="5.500" font-size="11" fill="#fff" text-anchor="middle" font-family="Liberation Serif, serif">1</text>
</g>
</svg></body></html>
